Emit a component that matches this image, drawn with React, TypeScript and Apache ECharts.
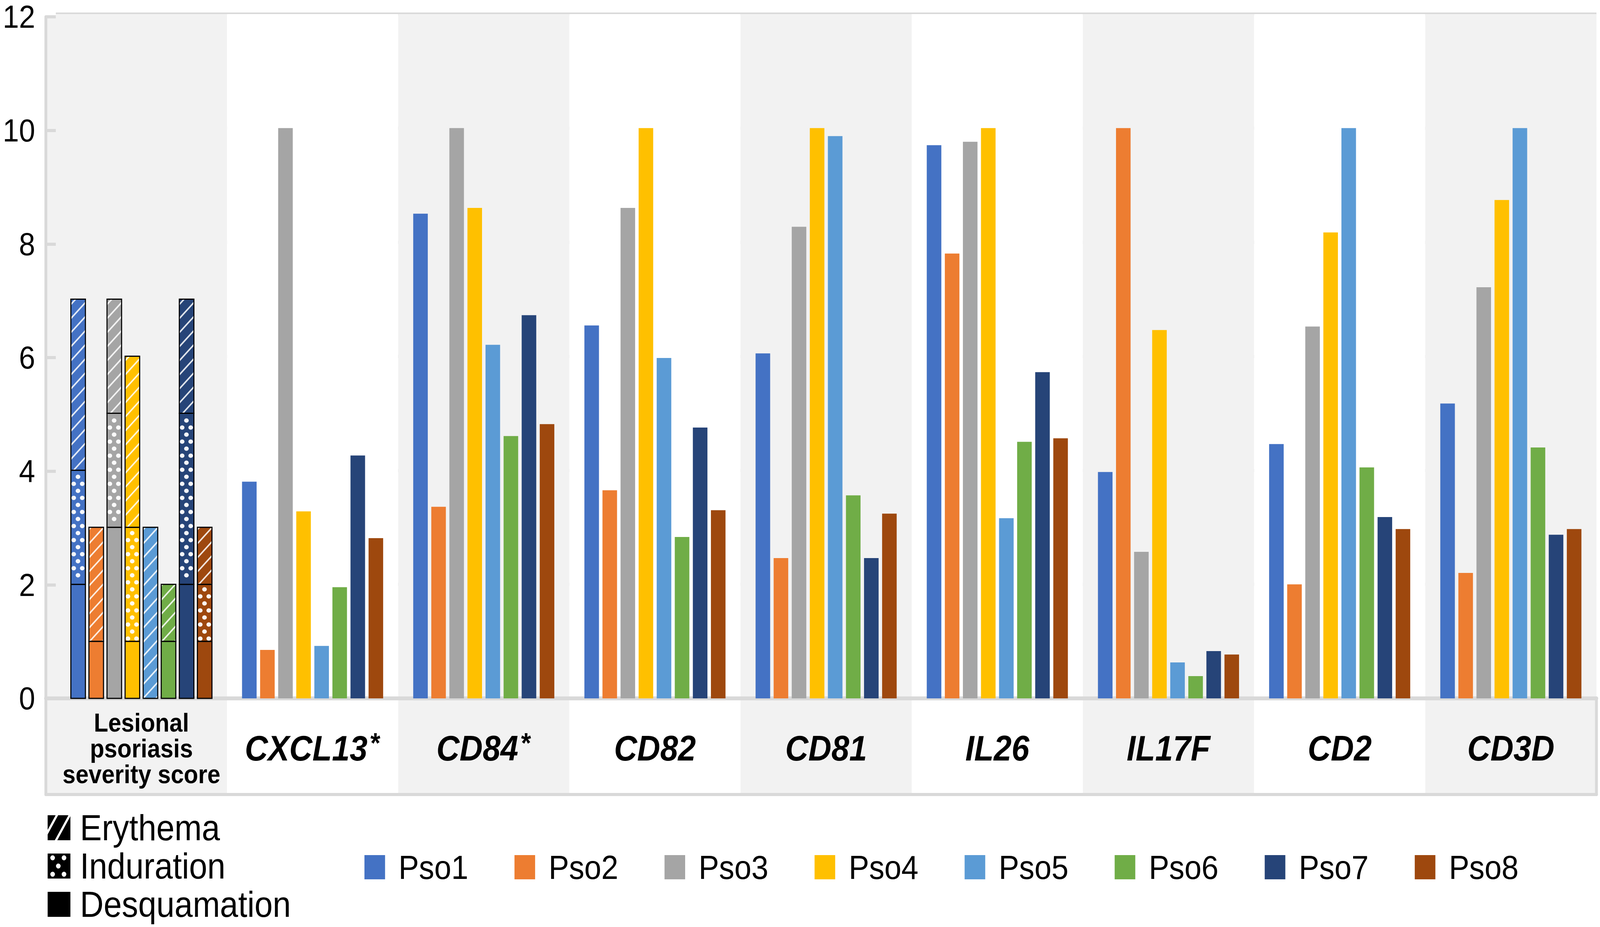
import React, { useEffect, useRef, useState } from "react";
import * as echarts from "echarts";

// ---------- data ----------
const categories = [
  "Lesional\npsoriasis\nseverity score",
  "CXCL13",
  "CD84",
  "CD82",
  "CD81",
  "IL26",
  "IL17F",
  "CD2",
  "CD3D",
];
const starred = ["CXCL13", "CD84"];
const patients = ["Pso1", "Pso2", "Pso3", "Pso4", "Pso5", "Pso6", "Pso7", "Pso8"];
const colors = ["#4472C4", "#ED7D31", "#A5A5A5", "#FFC000", "#5B9BD5", "#70AD47", "#264478", "#9E480E"];

// gene expression per patient, order: CXCL13, CD84, CD82, CD81, IL26, IL17F, CD2, CD3D
const pso1 = [3.8, 8.5, 6.54, 6.05, 9.7, 3.97, 4.46, 5.17];
const pso2 = [0.85, 3.36, 3.65, 2.46, 7.8, 10, 2.0, 2.2];
const pso3 = [10, 10, 8.6, 8.27, 9.76, 2.57, 6.52, 7.21];
const pso4 = [3.28, 8.6, 10, 10, 10, 6.46, 8.17, 8.74];
const pso5 = [0.92, 6.2, 5.97, 9.86, 3.16, 0.63, 10, 10];
const pso6 = [1.95, 4.6, 2.83, 3.56, 4.5, 0.39, 4.05, 4.4];
const pso7 = [4.26, 6.72, 4.75, 2.46, 5.72, 0.83, 3.18, 2.87];
const pso8 = [2.81, 4.81, 3.3, 3.24, 4.56, 0.77, 2.97, 2.97];
const expression = [pso1, pso2, pso3, pso4, pso5, pso6, pso7, pso8];

// severity score components per patient (Pso1..Pso8), stacked bottom to top
const desquamation = [2, 1, 3, 1, 0, 1, 2, 1];
const induration = [2, 0, 2, 2, 0, 0, 3, 1];
const erythema = [3, 2, 2, 3, 3, 1, 2, 1];

const yMin = 0;
const yMax = 12;
const yInterval = 2;

// ---------- styles ----------
const W = 4500;
const H = 2372;
const FONT = "'Liberation Sans', Arial, sans-serif";
const GRID_GREY = "#d9d9d9";
const BAND = ["#f2f2f2", "#ffffff"];
const BAR_W = 41;
const BAR_GAP = 0.24;

const components = [
  { key: "Desquamation", vals: desquamation, pattern: "solid" },
  { key: "Induration", vals: induration, pattern: "dots" },
  { key: "Erythema", vals: erythema, pattern: "stripes" },
];

// legend icons (black with white pattern)
const ERYTHEMA_ICON =
  "path://M0,0L22.5,0L0,37.5Z M29.5,0L58.5,0L20.1,64L0,64L0,49.2Z M64,2.5L64,64L27.1,64Z";
const dotHole = (cx: number, cy: number, r: number) =>
  `M${cx - r},${cy}A${r},${r},0,1,0,${cx + r},${cy}A${r},${r},0,1,0,${cx - r},${cy}Z`;
const INDURATION_ICON =
  "path://M0,0H64V64H0Z " +
  [
    [14, 11],
    [46, 11],
    [30, 32],
    [14, 53],
    [46, 53],
  ]
    .map(([x, y]) => dotHole(x, y, 6.5))
    .join(" ");

const PLOT_LEFT = 157;
const EDGE_LEFT = 129;
const PLOT_TOP = 36;
const PLOT_H = 1751;
const BAND_TOP = PLOT_TOP + PLOT_H;
const BAND_H = 246;

export default function App() {
  const ref = useRef<HTMLDivElement>(null);
  const [sc, setSc] = useState({ x: 1, y: 1 });

  useEffect(() => {
    document.body.style.margin = "0";
    document.documentElement.style.overflow = "hidden";
    document.body.style.overflow = "hidden";
    const sx = window.innerWidth / W;
    const sy = window.innerHeight / H;
    setSc({ x: sx > 0 ? sx : 1, y: sy > 0 ? sy : 1 });
  }, []);

  useEffect(() => {
    if (!ref.current) return;
    const chart = echarts.init(ref.current, null, { renderer: "svg" });

    const common = {
      type: "bar",
      xAxisIndex: 0,
      yAxisIndex: 0,
      barWidth: BAR_W,
      barGap: BAR_GAP * 100 + "%",
    };

    const geneSeries = patients.map((p, i) => ({
      ...common,
      name: p,
      stack: "s" + i,
      itemStyle: { color: colors[i] },
      data: ["-", ...expression[i]],
    }));

    // legend-only series for the severity components
    const keyNames = ["Erythema", "Induration", "Desquamation"];
    const keySeries = keyNames.map((k) => ({
      ...common,
      name: k,
      stack: "s0",
      itemStyle: { color: "#000" },
      data: categories.map(() => "-"),
    }));

    // stacked severity segments: [category, from, to, patient, component]
    const severityItems: number[][] = [];
    patients.forEach((_, i) => {
      let base = 0;
      components.forEach((c, ci) => {
        const v = c.vals[i];
        if (v > 0) {
          severityItems.push([0, base, base + v, i, ci]);
          base += v;
        }
      });
    });

    const severitySeries = {
      type: "custom",
      name: "severity",
      xAxisIndex: 0,
      yAxisIndex: 0,
      encode: { x: 0, y: [1, 2] },
      z: 3,
      data: severityItems,
      renderItem: (params: any, api: any) => {
        const cat = api.value(0);
        const v0 = api.value(1);
        const v1 = api.value(2);
        const p = api.value(3);
        const ci = api.value(4);
        const zero = api.coord([cat, 0]);
        const bot = api.coord([cat, v0]);
        const top = api.coord([cat, v1]);
        const gap = BAR_W * BAR_GAP;
        const groupW = patients.length * BAR_W + (patients.length - 1) * gap;
        const xL = zero[0] - groupW / 2 + p * (BAR_W + gap);
        const xR = xL + BAR_W;
        const yT = top[1];
        const yB = bot[1];
        const children: any[] = [
          {
            type: "rect",
            shape: { x: xL, y: yT, width: BAR_W, height: yB - yT },
            style: { fill: colors[p] },
          },
        ];
        const pat = components[ci].pattern;
        if (pat === "stripes") {
          const s = 36;
          const w = BAR_W;
          const jMin = Math.floor((zero[1] - (yB + w)) / s) - 1;
          const jMax = Math.ceil((zero[1] - yT) / s) + 1;
          for (let j = jMin; j <= jMax; j++) {
            const k = zero[1] - j * s;
            const t0 = Math.max(0, k - yB);
            const t1 = Math.min(w, k - yT);
            if (t1 - t0 > 0.5) {
              children.push({
                type: "line",
                shape: { x1: xL + t0, y1: k - t0, x2: xL + t1, y2: k - t1 },
                style: { stroke: "rgba(255,255,255,0.85)", lineWidth: 4 },
              });
            }
          }
        } else if (pat === "dots") {
          const r = 6.5;
          const rowH = 18;
          const colW = 24;
          for (let m = 0; ; m++) {
            const cy = zero[1] - 9 - m * rowH;
            if (cy < yT) break;
            if (cy - r < yT || cy + r > yB) continue;
            const off = m % 2 === 0 ? 8 : 20;
            for (let cx = xL + off; cx + r <= xR + 1; cx += colW) {
              if (cx - r < xL - 1) continue;
              children.push({
                type: "ellipse",
                shape: { cx, cy, rx: r, ry: r * 0.85 },
                style: { fill: "rgba(255,255,255,0.95)" },
              });
            }
          }
        }
        children.push({
          type: "rect",
          shape: { x: xL, y: yT, width: BAR_W, height: yB - yT },
          style: { fill: "none", stroke: "#000", lineWidth: 3 },
        });
        return { type: "group", children };
      },
    };

    const keyIcons: Record<string, string> = {
      Erythema: ERYTHEMA_ICON,
      Induration: INDURATION_ICON,
      Desquamation: "rect",
    };
    const keyLegends = keyNames.map((k, i) => ({
      orient: "vertical",
      left: 134,
      top: 2072 + i * 98,
      itemWidth: 64,
      itemHeight: 64,
      selectedMode: false,
      padding: 0,
      data: [{ name: k, icon: keyIcons[k] }],
      textStyle: {
        fontFamily: FONT,
        fontSize: 92,
        lineHeight: 64,
        color: "#000",
        padding: [0, 0, 0, 22],
      },
    }));

    const hiddenValueAxis = (gridIndex: number, extra: any = {}) => ({
      type: "value",
      gridIndex,
      axisLabel: { show: false },
      axisTick: { show: false },
      splitLine: { show: false },
      axisLine: { show: false },
      ...extra,
    });

    const option: any = {
      animation: false,
      backgroundColor: "#ffffff",
      textStyle: { fontFamily: FONT },
      grid: [
        { left: PLOT_LEFT, right: 10, top: PLOT_TOP, height: PLOT_H },
        { left: PLOT_LEFT, right: 10, top: BAND_TOP, height: BAND_H },
        {
          left: EDGE_LEFT,
          width: PLOT_LEFT - EDGE_LEFT,
          top: PLOT_TOP,
          height: PLOT_H,
          show: true,
          backgroundColor: BAND[0],
          borderWidth: 0,
        },
        {
          left: EDGE_LEFT,
          width: PLOT_LEFT - EDGE_LEFT,
          top: BAND_TOP,
          height: BAND_H,
          show: true,
          backgroundColor: BAND[0],
          borderWidth: 0,
        },
      ],
      legend: [
        ...keyLegends,
        {
          orient: "horizontal",
          left: 1025,
          top: 2176,
          icon: "rect",
          itemWidth: 58,
          itemHeight: 62,
          itemGap: 106,
          selectedMode: false,
          padding: 0,
          data: patients,
          textStyle: {
            fontFamily: FONT,
            fontSize: 86,
            lineHeight: 62,
            color: "#000",
            width: 220,
            padding: [0, 0, 0, 33],
          },
        },
      ],
      xAxis: [
        {
          type: "category",
          gridIndex: 0,
          data: categories,
          axisTick: { show: false },
          axisLine: { show: true, lineStyle: { color: GRID_GREY, width: 10 } },
          splitArea: { show: true, areaStyle: { color: BAND } },
          axisLabel: {
            interval: 0,
            margin: 128,
            verticalAlign: "middle",
            color: "#000",
            formatter: (v: string) => {
              if (v.indexOf("\n") >= 0) return "{c|" + v + "}";
              if (starred.indexOf(v) >= 0) return "{g|" + v + "}{s|*}";
              return "{g|" + v + "}";
            },
            rich: {
              c: {
                fontFamily: FONT,
                fontSize: 66,
                lineHeight: 66,
                fontWeight: "bold",
                color: "#000",
                align: "center",
              },
              g: {
                fontFamily: FONT,
                fontSize: 90,
                lineHeight: 100,
                fontWeight: "bold",
                fontStyle: "italic",
                color: "#000",
              },
              s: {
                fontFamily: FONT,
                fontSize: 72,
                lineHeight: 100,
                fontWeight: "bold",
                color: "#000",
                verticalAlign: "top",
                padding: [0, 0, 24, 8],
              },
            },
          },
        },
        {
          type: "category",
          gridIndex: 1,
          data: categories,
          axisTick: { show: false },
          axisLabel: { show: false },
          axisLine: { show: true, lineStyle: { color: GRID_GREY, width: 8 } },
          splitArea: { show: true, areaStyle: { color: BAND } },
        },
        hiddenValueAxis(2, {
          position: "bottom",
          axisLine: { show: true, lineStyle: { color: GRID_GREY, width: 10 } },
        }),
        hiddenValueAxis(3, {
          position: "bottom",
          axisLine: { show: true, lineStyle: { color: GRID_GREY, width: 8 } },
        }),
      ],
      yAxis: [
        {
          type: "value",
          gridIndex: 0,
          min: yMin,
          max: yMax,
          interval: yInterval,
          axisLine: { show: false },
          axisTick: { show: false },
          splitLine: { show: true, lineStyle: { color: GRID_GREY, width: 8 } },
          axisLabel: { show: false },
        },
        hiddenValueAxis(1, {
          position: "right",
          axisLine: { show: true, lineStyle: { color: GRID_GREY, width: 8 } },
        }),
        {
          type: "value",
          gridIndex: 2,
          min: yMin,
          max: yMax,
          interval: yInterval,
          axisLine: { show: true, lineStyle: { color: GRID_GREY, width: 8 } },
          axisTick: { show: false },
          splitLine: { show: true, lineStyle: { color: GRID_GREY, width: 8 } },
          axisLabel: {
            fontFamily: FONT,
            fontSize: 82,
            lineHeight: 68,
            color: "#000",
            margin: 30,
            padding: [18, 0, 0, 0],
          },
        },
        hiddenValueAxis(3, {
          axisLine: { show: true, lineStyle: { color: GRID_GREY, width: 8 } },
        }),
      ],
      series: [...geneSeries, ...keySeries, severitySeries],
    };

    chart.setOption(option);
    return () => chart.dispose();
  }, []);

  return (
    <div style={{ width: "100vw", height: "100vh", overflow: "hidden", position: "relative" }}>
      <div
        ref={ref}
        style={{
          position: "absolute",
          left: 0,
          top: 0,
          width: W,
          height: H,
          transform: `scale(${sc.x}, ${sc.y})`,
          transformOrigin: "0 0",
        }}
      />
    </div>
  );
}
